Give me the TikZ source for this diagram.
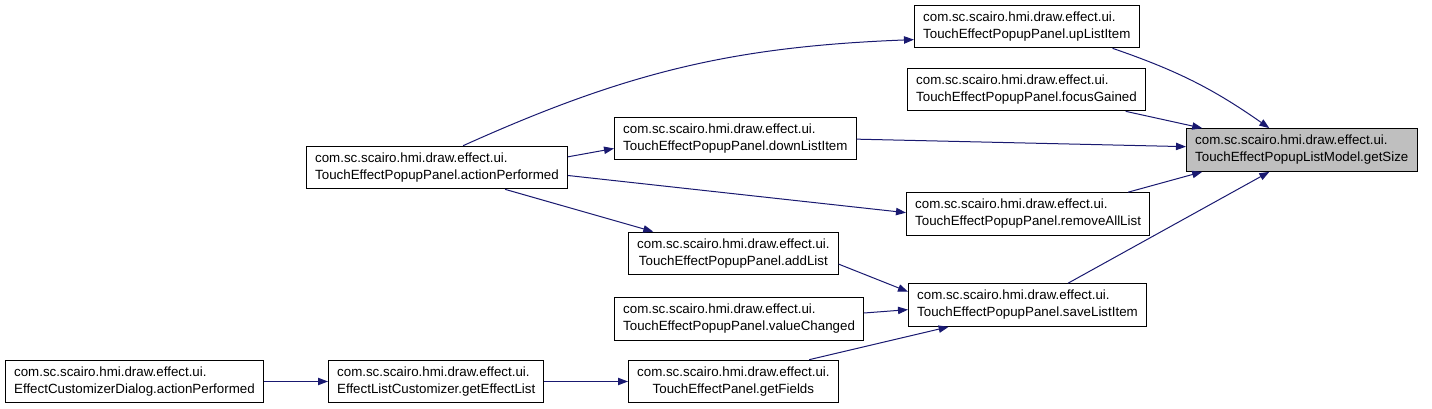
\documentclass[tikz,border=0pt]{standalone}
\usepackage{fontspec}
\setmainfont{Liberation Sans}
\usetikzlibrary{arrows.meta,calc}
\definecolor{edgeblue}{HTML}{191970}
\definecolor{hlgray}{HTML}{BFBFBF}
\tikzset{
  box/.style={draw=black, line width=0.75pt, fill=white, rectangle, anchor=west,
    align=left, font=\fontsize{10pt}{12.75pt}\selectfont, inner xsep=6.5pt, inner ysep=2pt,
    minimum height=32pt},
  cbox/.style={box, align=center},
  hl/.style={fill=hlgray},
  edge/.style={draw=edgeblue, line width=0.75pt, -{Triangle[length=7.5pt,width=5.5pt]}, fill=none}
}
\begin{document}
\begin{tikzpicture}[x=0.75pt,y=-0.75pt]
\useasboundingbox (0,0) rectangle (1432,409);
% nodes
\node[box,hl] (getSize) at (1186,150) {com.sc.scairo.hmi.draw.effect.ui.\\TouchEffectPopupListModel.getSize};
\node[box] (upList) at (914,26.5) {com.sc.scairo.hmi.draw.effect.ui.\\TouchEffectPopupPanel.upListItem};
\node[box] (focus) at (907,89.5) {com.sc.scairo.hmi.draw.effect.ui.\\TouchEffectPopupPanel.focusGained};
\node[box] (downList) at (614,138.5) {com.sc.scairo.hmi.draw.effect.ui.\\TouchEffectPopupPanel.downListItem};
\node[box] (action) at (306,167.5) {com.sc.scairo.hmi.draw.effect.ui.\\TouchEffectPopupPanel.actionPerformed};
\node[box] (removeAll) at (906,214) {com.sc.scairo.hmi.draw.effect.ui.\\TouchEffectPopupPanel.removeAllList};
\node[cbox] (addList) at (628,253.5) {com.sc.scairo.hmi.draw.effect.ui.\\TouchEffectPopupPanel.addList};
\node[box] (save) at (908,305) {com.sc.scairo.hmi.draw.effect.ui.\\TouchEffectPopupPanel.saveListItem};
\node[box] (valueCh) at (614,319) {com.sc.scairo.hmi.draw.effect.ui.\\TouchEffectPopupPanel.valueChanged};
\node[cbox] (getFields) at (628,381.5) {com.sc.scairo.hmi.draw.effect.ui.\\TouchEffectPanel.getFields};
\node[box] (getEffect) at (328,381.5) {com.sc.scairo.hmi.draw.effect.ui.\\EffectListCustomizer.getEffectList};
\node[box] (dialog) at (5,381.5) {com.sc.scairo.hmi.draw.effect.ui.\\EffectCustomizerDialog.actionPerformed};
% edges
\draw[edge] ($(upList.south west)!0.88!(upList.south east)$) to[bend left=8] ($(getSize.north west)!0.36!(getSize.north east)$);
\draw[edge] ($(focus.south west)!0.915!(focus.south east)$) -- ($(getSize.north west)!0.07!(getSize.north east)$);
\draw[edge] ([yshift=-0.5pt]downList.east) -- ([yshift=2.5pt]getSize.west);
\draw[edge] ($(removeAll.north west)!0.91!(removeAll.north east)$) -- ($(getSize.south west)!0.07!(getSize.south east)$);
\draw[edge] ($(save.north west)!0.67!(save.north east)$) -- ($(getSize.south west)!0.36!(getSize.south east)$);
\draw[edge] ($(action.north west)!0.6!(action.north east)$) to[bend left=11] ($(upList.south west)!0.2!(upList.north west)$);
\draw[edge] ([yshift=8pt]action.east) -- ([yshift=-7.5pt]downList.west);
\draw[edge] ([yshift=-6pt]action.east) -- ([yshift=1pt]removeAll.west);
\draw[edge] ($(action.south west)!0.76!(action.south east)$) -- ($(addList.north west)!0.12!(addList.north east)$);
\draw[edge] ([yshift=-8pt]addList.east) -- ([yshift=10pt]save.west);
\draw[edge] ([yshift=4.5pt]valueCh.east) -- ([yshift=-3.5pt]save.west);
\draw[edge] ($(getFields.north west)!0.86!(getFields.north east)$) -- ($(save.south west)!0.17!(save.south east)$);
\draw[edge] (getEffect.east) -- (getFields.west);
\draw[edge] (dialog.east) -- (getEffect.west);
\end{tikzpicture}
\end{document}
